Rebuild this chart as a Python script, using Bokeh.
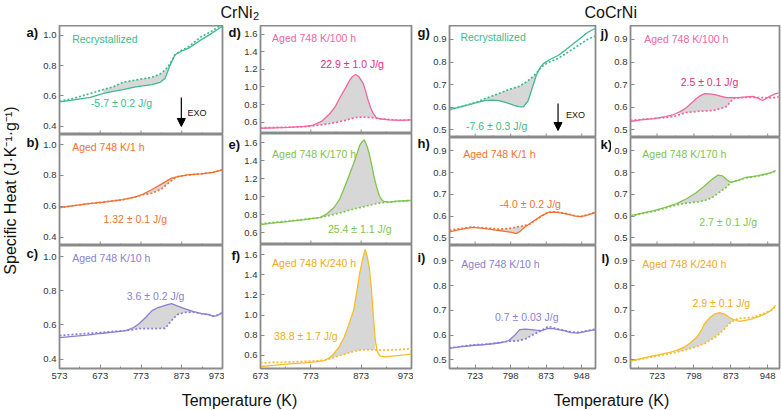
import math
from bokeh.plotting import figure
from bokeh.layouts import row, column
from bokeh.models import Range1d, FixedTicker, PrintfTickFormatter, Label, Arrow, NormalHead
from bokeh.embed import file_html
from bokeh.resources import INLINE

FONT = "Liberation Sans"
FRAME = "#8a8a8a"

# ---------------- data ----------------
# CrNi2
T_a = [573, 600, 649, 681, 705, 729, 760, 800, 820, 832, 844, 856, 872, 890, 920, 945, 973]
a_solid = [0.56, 0.57, 0.59, 0.616, 0.63, 0.642, 0.66, 0.675, 0.69, 0.715, 0.80, 0.87, 0.895, 0.915, 0.97, 1.01, 1.06]
a_dotted = [0.565, 0.578, 0.616, 0.642, 0.66, 0.69, 0.705, 0.723, 0.745, 0.77, 0.81, 0.87, 0.90, 0.925, 0.99, 1.025, 1.075]

T_b = [573, 600, 640, 681, 729, 760, 777, 800, 824, 848, 860, 888, 920, 950, 973]
b_solid = [0.59, 0.60, 0.615, 0.626, 0.643, 0.66, 0.677, 0.708, 0.745, 0.782, 0.79, 0.803, 0.81, 0.82, 0.835]
b_dotted = [0.59, 0.60, 0.615, 0.626, 0.643, 0.66, 0.674, 0.684, 0.713, 0.767, 0.79, 0.803, 0.81, 0.82, 0.835]

T_c = [573, 600, 640, 674, 705, 736, 755, 769, 785, 800, 815, 832, 848, 862, 880, 900, 920, 940, 950, 960, 973]
c_solid = [0.526, 0.532, 0.54, 0.55, 0.558, 0.567, 0.585, 0.608, 0.645, 0.684, 0.702, 0.714, 0.725, 0.712, 0.696, 0.68, 0.667, 0.66, 0.65, 0.655, 0.672]
c_dotted = [0.538, 0.543, 0.55, 0.556, 0.562, 0.567, 0.573, 0.579, 0.579, 0.579, 0.579, 0.58, 0.626, 0.66, 0.673, 0.675, 0.667, 0.66, 0.652, 0.657, 0.672]

T_d = [673, 700, 730, 760, 776, 795, 811, 822, 831, 842, 850, 856, 862, 868, 877, 882, 887, 892, 897, 903, 912, 930, 950, 973]
d_solid = [0.53, 0.535, 0.54, 0.55, 0.561, 0.61, 0.698, 0.78, 0.88, 0.99, 1.074, 1.12, 1.142, 1.12, 1.04, 0.95, 0.846, 0.76, 0.698, 0.652, 0.635, 0.625, 0.62, 0.625]
d_dotted = [0.535, 0.538, 0.542, 0.548, 0.555, 0.57, 0.584, 0.596, 0.607, 0.62, 0.633, 0.643, 0.652, 0.655, 0.656, 0.655, 0.653, 0.651, 0.65, 0.645, 0.638, 0.628, 0.622, 0.625]

T_e = [673, 700, 730, 760, 792, 805, 819, 830, 839, 848, 858, 865, 870, 875, 879, 884, 889, 894, 899, 904, 909, 914, 918, 930, 945, 960, 973]
e_solid = [0.69, 0.71, 0.727, 0.745, 0.77, 0.81, 0.88, 0.97, 1.09, 1.22, 1.368, 1.48, 1.567, 1.61, 1.63, 1.57, 1.478, 1.35, 1.212, 1.10, 1.013, 0.965, 0.947, 0.94, 0.95, 0.955, 0.96]
e_dotted = [0.70, 0.715, 0.73, 0.748, 0.769, 0.785, 0.805, 0.818, 0.832, 0.848, 0.862, 0.872, 0.878, 0.885, 0.89, 0.897, 0.904, 0.91, 0.918, 0.924, 0.928, 0.932, 0.935, 0.94, 0.948, 0.953, 0.958]

T_f = [673, 700, 730, 760, 780, 800, 810, 819, 830, 839, 848, 858, 865, 870, 876, 881, 885, 889, 893, 897, 901, 905, 910, 920, 940, 960, 973]
f_solid = [0.49, 0.50, 0.515, 0.525, 0.535, 0.549, 0.575, 0.619, 0.69, 0.777, 0.90, 1.045, 1.25, 1.412, 1.56, 1.65, 1.58, 1.472, 1.28, 1.0, 0.75, 0.64, 0.595, 0.585, 0.595, 0.605, 0.612]
f_dotted = [0.525, 0.53, 0.535, 0.54, 0.545, 0.553, 0.565, 0.58, 0.598, 0.61, 0.625, 0.64, 0.647, 0.652, 0.655, 0.656, 0.657, 0.657, 0.656, 0.655, 0.655, 0.654, 0.653, 0.652, 0.655, 0.662, 0.668]

# CoCrNi
T_g = [669, 690, 711, 730, 744, 760, 773, 785, 794, 805, 815, 825, 835, 842, 852, 860, 867, 880, 898, 915, 931, 945, 960, 977]
g_solid = [0.589, 0.60, 0.611, 0.622, 0.629, 0.631, 0.629, 0.622, 0.616, 0.608, 0.602, 0.601, 0.629, 0.674, 0.74, 0.775, 0.793, 0.81, 0.829, 0.855, 0.882, 0.905, 0.931, 0.95]
g_dotted = [0.589, 0.60, 0.612, 0.625, 0.638, 0.65, 0.66, 0.67, 0.678, 0.685, 0.691, 0.703, 0.718, 0.73, 0.749, 0.77, 0.785, 0.80, 0.816, 0.838, 0.86, 0.88, 0.90, 0.915]

T_h = [669, 690, 717, 730, 744, 760, 773, 786, 800, 810, 818, 827, 838, 848, 862, 877, 888, 898, 912, 925, 935, 946, 960, 977]
h_solid = [0.528, 0.538, 0.548, 0.546, 0.543, 0.538, 0.534, 0.53, 0.525, 0.52, 0.53, 0.548, 0.565, 0.58, 0.6, 0.617, 0.619, 0.617, 0.612, 0.606, 0.60, 0.598, 0.605, 0.617]
h_dotted = [0.535, 0.542, 0.55, 0.548, 0.546, 0.543, 0.54, 0.542, 0.545, 0.55, 0.553, 0.556, 0.563, 0.578, 0.598, 0.618, 0.62, 0.618, 0.613, 0.607, 0.60, 0.598, 0.606, 0.618]

T_i = [669, 690, 717, 744, 760, 779, 794, 806, 817, 830, 842, 852, 863, 877, 888, 898, 912, 925, 940, 955, 966, 977]
i_solid = [0.546, 0.552, 0.558, 0.562, 0.565, 0.57, 0.578, 0.598, 0.622, 0.624, 0.622, 0.62, 0.618, 0.627, 0.626, 0.622, 0.617, 0.61, 0.608, 0.614, 0.618, 0.622]
i_dotted = [0.548, 0.553, 0.56, 0.563, 0.566, 0.571, 0.575, 0.576, 0.578, 0.585, 0.598, 0.608, 0.618, 0.635, 0.63, 0.625, 0.619, 0.613, 0.611, 0.616, 0.62, 0.624]

T_j = [669, 690, 717, 740, 757, 770, 783, 793, 803, 812, 820, 830, 838, 850, 864, 878, 890, 905, 918, 928, 938, 950, 964, 970]
j_solid = [0.536, 0.543, 0.549, 0.558, 0.567, 0.58, 0.598, 0.618, 0.638, 0.652, 0.66, 0.659, 0.656, 0.65, 0.642, 0.642, 0.642, 0.645, 0.647, 0.64, 0.629, 0.645, 0.66, 0.662]
j_dotted = [0.54, 0.545, 0.55, 0.554, 0.558, 0.567, 0.576, 0.578, 0.58, 0.582, 0.583, 0.584, 0.585, 0.592, 0.602, 0.638, 0.642, 0.643, 0.643, 0.642, 0.642, 0.641, 0.642, 0.645]

T_k = [669, 690, 717, 740, 763, 783, 803, 820, 835, 847, 856, 865, 873, 888, 903, 917, 929, 945, 955, 964]
k_solid = [0.603, 0.613, 0.626, 0.64, 0.658, 0.68, 0.709, 0.74, 0.77, 0.789, 0.785, 0.768, 0.755, 0.765, 0.778, 0.782, 0.787, 0.795, 0.80, 0.81]
k_dotted = [0.60, 0.61, 0.623, 0.637, 0.652, 0.66, 0.665, 0.672, 0.685, 0.705, 0.72, 0.735, 0.755, 0.765, 0.776, 0.78, 0.785, 0.793, 0.80, 0.808]

T_l = [669, 690, 717, 735, 749, 763, 777, 790, 803, 812, 820, 830, 840, 850, 860, 870, 880, 890, 905, 918, 930, 944, 955, 964]
l_solid = [0.495, 0.505, 0.517, 0.524, 0.53, 0.538, 0.55, 0.567, 0.59, 0.615, 0.647, 0.67, 0.685, 0.691, 0.685, 0.671, 0.662, 0.655, 0.66, 0.667, 0.675, 0.687, 0.70, 0.72]
l_dotted = [0.495, 0.503, 0.513, 0.52, 0.525, 0.531, 0.538, 0.545, 0.553, 0.56, 0.566, 0.578, 0.59, 0.606, 0.625, 0.647, 0.66, 0.668, 0.67, 0.672, 0.68, 0.69, 0.70, 0.715]

# tick labels
xticks_crni2_1 = [573, 673, 773, 873, 973]
xticks_crni2_2 = [673, 773, 873, 973]
xticks_cocrni = [723, 798, 873, 948]
yticks_crni2_1 = [0.4, 0.6, 0.8, 1.0]
yticks_crni2_2 = [0.6, 0.8, 1.0, 1.2, 1.4, 1.6]
yticks_cocrni = [0.5, 0.6, 0.7, 0.8, 0.9]

panel_letters = ["a)", "b)", "c)", "d)", "e)", "f)", "g)", "h)", "i)", "j)", "k)", "l)"]
sample_labels = ["Recrystallized", "Aged 748 K/1 h", "Aged 748 K/10 h",
                 "Aged 748 K/100 h", "Aged 748 K/170 h", "Aged 748 K/240 h"]
enthalpy_crni2 = ["-5.7 ± 0.2 J/g", "1.32 ± 0.1 J/g", "3.6 ± 0.2 J/g",
                  "22.9 ± 1.0 J/g", "25.4 ± 1.1 J/g", "38.8 ± 1.7 J/g"]
enthalpy_cocrni = ["-7.6 ± 0.3 J/g", "-4.0 ± 0.2 J/g", "0.7 ± 0.03 J/g",
                   "2.5 ± 0.1 J/g", "2.7 ± 0.1 J/g", "2.9 ± 0.1 J/g"]

# ---------------- styles / layout ----------------
TEAL = "#3dba8c"
ORANGE = "#f07232"
PURPLE = "#8a7fd2"
PINK = "#f2659f"
PINK_D = "#e0307e"
GREEN = "#7fc44b"
GOLD = "#f6bd26"
GOLD_T = "#f2aa1c"

STACK_TOP = 25      # page y of the first frame top
STACK_H = 359       # height of each panel column

cols = [
    dict(w=184, left=15, right=2, xr=(573, 973), yr=(0.345, 1.065), heights=[109, 111, 139],
         xt=xticks_crni2_1, xm=[623, 723, 823, 923], yt=yticks_crni2_1),
    dict(w=172, left=16, right=2, xr=(673, 973), yr=(0.47, 1.70), heights=[108, 111, 140],
         xt=xticks_crni2_2, xm=[723, 823, 923], yt=yticks_crni2_2),
    dict(w=168, left=17, right=3, xr=(669, 977), yr=(0.465, 0.962), heights=[112, 108, 139],
         xt=xticks_cocrni, xm=[685.5, 760.5, 835.5, 910.5], yt=yticks_cocrni),
    dict(w=170, left=17, right=2, xr=(669, 972), yr=(0.465, 0.962), heights=[112, 108, 139],
         xt=xticks_cocrni, xm=[685.5, 760.5, 835.5, 910.5], yt=yticks_cocrni),
]
# letter strip before each column: (width, [(x, y_page) for each row])
letter_strips = [
    (40, [(26, 31.5), (26, 141.5), (26, 253)]),
    (17, [(4, 31.5), (4, 143.5), (7, 254.5)]),
    (17, [(4, 32), (4, 142.5), (4, 257)]),
    (13, [(2, 32.5), (2, 143.5), (3, 258)]),
]

panels = [
    [dict(T=T_a, s=a_solid, d=a_dotted, c=TEAL, shade=(681, 856),
          lab=sample_labels[0], labc=TEAL, labp=(604, 0.979), val=enthalpy_crni2[0], valc=TEAL, valp=(650, 0.55),
          exo=(872, 0.589, 0.398, 887, 0.49)),
     dict(T=T_b, s=b_solid, d=b_dotted, c=ORANGE, shade=(777, 860),
          lab=sample_labels[1], labc=ORANGE, labp=(604, 0.981), val=enthalpy_crni2[1], valc=ORANGE, valp=(681, 0.514)),
     dict(T=T_c, s=c_solid, d=c_dotted, c=PURPLE, shade=(736, 900),
          lab=sample_labels[2], labc=PURPLE, labp=(604, 0.989), val=enthalpy_crni2[2], valc=PURPLE, valp=(738, 0.772))],
    [dict(T=T_d, s=d_solid, d=d_dotted, c=PINK, shade=(776, 903),
          lab=sample_labels[3], labc=PINK, labp=(696, 1.563), val=enthalpy_crni2[3], valc=PINK_D, valp=(792, 1.267)),
     dict(T=T_e, s=e_solid, d=e_dotted, c=GREEN, shade=(792, 930),
          lab=sample_labels[4], labc=GREEN, labp=(696, 1.478), val=enthalpy_crni2[4], valc=GREEN, valp=(807, 0.647)),
     dict(T=T_f, s=f_solid, d=f_dotted, c=GOLD, shade=(810, 901),
          lab=sample_labels[5], labc=GOLD_T, labp=(696, 1.521), val=enthalpy_crni2[5], valc=GOLD_T, valp=(700, 0.797))],
    [dict(T=T_g, s=g_solid, d=g_dotted, c=TEAL, shade=(730, 852),
          lab=sample_labels[0], labc=TEAL, labp=(692, 0.909), val=enthalpy_cocrni[0], valc=TEAL, valp=(704, 0.518),
          exo=(898, 0.616, 0.496, 915, 0.563)),
     dict(T=T_h, s=h_solid, d=h_dotted, c=ORANGE, shade=(773, 838),
          lab=sample_labels[1], labc=ORANGE, labp=(698, 0.888), val=enthalpy_cocrni[1], valc=ORANGE, valp=(775, 0.658)),
     dict(T=T_i, s=i_solid, d=i_dotted, c=PURPLE, shade=(794, 863),
          lab=sample_labels[2], labc=PURPLE, labp=(694, 0.889), val=enthalpy_cocrni[2], valc=PURPLE, valp=(765, 0.675))],
    [dict(T=T_j, s=j_solid, d=j_dotted, c=PINK, shade=(770, 878),
          lab=sample_labels[3], labc=PINK, labp=(697, 0.900), val=enthalpy_cocrni[3], valc=PINK_D, valp=(771, 0.713)),
     dict(T=T_k, s=k_solid, d=k_dotted, c=GREEN, shade=(763, 873),
          lab=sample_labels[4], labc=GREEN, labp=(693, 0.884), val=enthalpy_cocrni[4], valc=GREEN, valp=(809, 0.571)),
     dict(T=T_l, s=l_solid, d=l_dotted, c=GOLD, shade=(763, 880),
          lab=sample_labels[5], labc=GOLD_T, labp=(693, 0.889), val=enthalpy_cocrni[5], valc=GOLD_T, valp=(795, 0.728))],
]


def style_axis(ax):
    ax.axis_line_color = None
    ax.major_tick_line_color = FRAME
    ax.minor_tick_line_color = FRAME
    ax.major_tick_in = 4
    ax.major_tick_out = 0
    ax.minor_tick_in = 2
    ax.minor_tick_out = 0
    ax.major_label_text_font = FONT
    ax.major_label_text_font_size = "9.5px"
    ax.major_label_text_color = "#333333"


def make_panel(spec, cs, h, bottom):
    bb = 16 if bottom else 0
    p = figure(width=cs["w"], height=h, x_range=Range1d(*cs["xr"]), y_range=Range1d(*cs["yr"]),
               output_backend="svg", toolbar_location=None,
               min_border_left=cs["left"], min_border_right=cs["right"],
               min_border_top=0, min_border_bottom=bb)
    p.grid.visible = False
    p.outline_line_color = FRAME
    p.outline_line_width = 1.8
    p.background_fill_color = "white"
    p.border_fill_color = "white"

    T, s, d = spec["T"], spec["s"], spec["d"]
    lo, hi = spec["shade"]
    idx = [k for k, t in enumerate(T) if lo <= t <= hi]
    p.varea(x=[T[k] for k in idx], y1=[s[k] for k in idx], y2=[d[k] for k in idx],
            fill_color="#d5d5d5", fill_alpha=0.95)
    p.line(T, d, line_color=spec["c"], line_width=1.7, line_dash="2 2")
    p.line(T, s, line_color=spec["c"], line_width=1.3)

    style_axis(p.yaxis[0])
    p.yaxis.ticker = FixedTicker(ticks=cs["yt"])
    p.yaxis.formatter = PrintfTickFormatter(format="%.1f")
    p.yaxis.minor_tick_line_color = None
    p.yaxis.major_label_standoff = 3

    if bottom:
        style_axis(p.xaxis[0])
        p.xaxis.ticker = FixedTicker(ticks=cs["xt"], minor_ticks=cs["xm"])
        p.xaxis.major_label_standoff = 4
    else:
        # inner tick marks along the bottom edge (no labels on stacked panels)
        p.xaxis.visible = False
        y0 = cs["yr"][0]
        per_px = (cs["yr"][1] - cs["yr"][0]) / (h - bb)
        p.segment(x0=cs["xt"], y0=[y0] * len(cs["xt"]), x1=cs["xt"], y1=[y0 + 4 * per_px] * len(cs["xt"]),
                  line_color=FRAME, line_width=1)
        p.segment(x0=cs["xm"], y0=[y0] * len(cs["xm"]), x1=cs["xm"], y1=[y0 + 2 * per_px] * len(cs["xm"]),
                  line_color=FRAME, line_width=1)

    p.add_layout(Label(x=spec["labp"][0], y=spec["labp"][1], text=spec["lab"], text_font=FONT,
                       text_font_size="10.5px", text_color=spec["labc"],
                       text_align="left", text_baseline="middle"))
    p.add_layout(Label(x=spec["valp"][0], y=spec["valp"][1], text=spec["val"], text_font=FONT,
                       text_font_size="10.5px", text_color=spec["valc"],
                       text_align="left", text_baseline="middle"))
    if "exo" in spec:
        ax_, y0a, y1a, tx, ty = spec["exo"]
        p.add_layout(Arrow(end=NormalHead(size=8, fill_color="black", line_color="black"),
                           x_start=ax_, y_start=y0a, x_end=ax_, y_end=y1a,
                           line_color="black", line_width=1.2))
        p.add_layout(Label(x=tx, y=ty, text="EXO", text_font=FONT, text_font_size="9px",
                           text_color="#111111", text_align="left", text_baseline="middle"))
    return p


def blank(w, h):
    p = figure(width=w, height=h, x_range=Range1d(0, w), y_range=Range1d(0, h),
               output_backend="svg", toolbar_location=None, x_axis_type=None, y_axis_type=None,
               min_border=0)
    p.grid.visible = False
    p.outline_line_color = None
    return p


children = []
li = 0
for ci, (cs, specs) in enumerate(zip(cols, panels)):
    sw, spos = letter_strips[ci]
    strip = blank(sw, STACK_H)
    for (lx, ly) in spos:
        strip.add_layout(Label(x=lx, y=STACK_H - (ly - STACK_TOP), text=panel_letters[li], text_font=FONT,
                               text_font_size="13px", text_font_style="bold", text_color="#111111",
                               text_align="left", text_baseline="middle"))
        li += 1
    if ci == 0:
        strip.add_layout(Label(x=9.5, y=STACK_H - (190 - STACK_TOP), text="Specific Heat (J·K⁻¹·g⁻¹)",
                               angle=math.pi / 2, text_font=FONT, text_font_size="16px",
                               text_color="#111111", text_align="center", text_baseline="middle"))
    figs = [make_panel(sp, cs, h, k == 2) for k, (sp, h) in enumerate(zip(specs, cs["heights"]))]
    children.append(strip)
    children.append(column(*figs, spacing=0))

TOTAL_W = sum(c["w"] for c in cols) + sum(s[0] for s in letter_strips)

header = blank(TOTAL_W, STACK_TOP)
header.add_layout(Label(x=220, y=13, text="CrNi", text_font=FONT, text_font_size="16px",
                        text_color="#111111", text_align="left", text_baseline="middle"))
header.add_layout(Label(x=252.5, y=9.5, text="2", text_font=FONT, text_font_size="11px",
                        text_color="#111111", text_align="left", text_baseline="middle"))
header.add_layout(Label(x=584, y=13, text="CoCrNi", text_font=FONT, text_font_size="16px",
                        text_color="#111111", text_align="left", text_baseline="middle"))

FOOT_H = 26
footer = blank(TOTAL_W, FOOT_H)
for cx in (239, 611):
    footer.add_layout(Label(x=cx, y=10, text="Temperature (K)", text_font=FONT, text_font_size="16px",
                            text_color="#111111", text_align="center", text_baseline="middle"))

layout = column(header, row(*children, spacing=0), footer, spacing=0)

open("out.html", "w").write(file_html(layout, INLINE))
